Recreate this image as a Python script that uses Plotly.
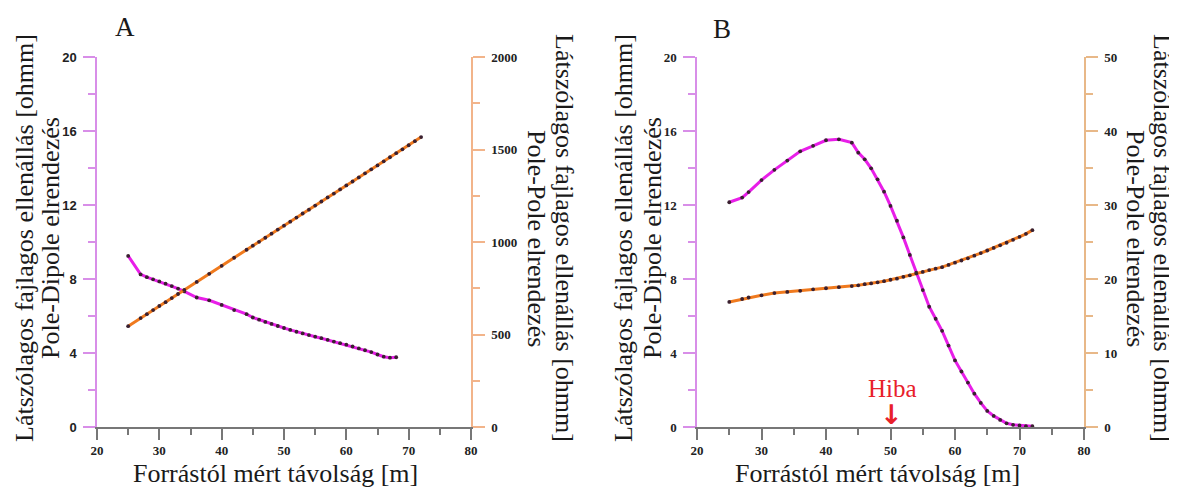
import plotly.graph_objects as go

# Panel A
xa_pp = [25, 27, 28, 29, 30, 31, 32, 33, 34, 36, 38, 40, 42, 44, 45, 46, 47, 48, 49, 50, 51,
         52, 53, 54, 55, 56, 57, 58, 59, 60, 61, 62, 63, 64, 65, 66, 67, 68, 69, 70, 71, 72]
ya_pp = [545, 589, 610, 632, 654, 675, 697, 719, 741, 784, 828, 871, 915, 958, 980, 1001, 1023,
         1045, 1067, 1088, 1110, 1132, 1154, 1175, 1197, 1219, 1241, 1262, 1284, 1306, 1327,
         1349, 1371, 1393, 1414, 1436, 1458, 1480, 1501, 1523, 1545, 1567]
xa_pd = [25, 27, 28, 29, 30, 31, 32, 33, 34, 36, 38, 40, 42, 44, 45, 46, 47, 48, 49, 50, 51,
         52, 53, 54, 55, 56, 57, 58, 59, 60, 61, 62, 63, 64, 65, 66, 67, 68]
ya_pd = [9.25, 8.25, 8.1, 7.98, 7.87, 7.75, 7.62, 7.48, 7.33, 7.0, 6.85, 6.6, 6.32, 6.1, 5.92,
         5.8, 5.68, 5.57, 5.46, 5.35, 5.25, 5.15, 5.06, 4.97, 4.88, 4.8, 4.71, 4.62, 4.53, 4.45,
         4.35, 4.25, 4.15, 4.05, 3.92, 3.8, 3.75, 3.77]

# Panel B
xb = [25, 27, 28, 30, 32, 34, 36, 38, 40, 42, 44, 45, 46, 47, 48, 49, 50, 51, 52, 53, 54, 55,
      56, 57, 58, 59, 60, 61, 62, 63, 64, 65, 66, 67, 68, 69, 70, 71, 72]
yb_pd = [12.15, 12.4, 12.7, 13.35, 13.9, 14.4, 14.9, 15.2, 15.5, 15.55, 15.37, 14.83, 14.47,
         13.98, 13.39, 12.72, 11.95, 11.15, 10.25, 9.3, 8.34, 7.4, 6.5, 5.85, 5.2, 4.4, 3.6,
         3.0, 2.4, 1.8, 1.3, 0.87, 0.6, 0.38, 0.2, 0.12, 0.08, 0.05, 0.04]
yb_pp = [16.9, 17.3, 17.5, 17.8, 18.1, 18.25, 18.4, 18.6, 18.75, 18.9, 19.05, 19.15, 19.3, 19.4,
         19.55, 19.7, 19.9, 20.05, 20.3, 20.5, 20.75, 20.95, 21.2, 21.4, 21.6, 21.9, 22.2, 22.5,
         22.8, 23.15, 23.5, 23.85, 24.2, 24.55, 24.9, 25.3, 25.7, 26.1, 26.6]

# the page body has an 8px margin, so the figure is a bit smaller and positions are shifted
OFF = 8
W, H = 1177 - OFF, 490 - OFF
MAG = '#e81ee8'
ORA = '#f07a1e'
DOT = '#3a2030'
SERIF = 'Liberation Serif'

def px(x):
    return (x - OFF) / W

def py(y):
    return 1 - (y - OFF) / H

fig = go.Figure()

def line(x, y, xa, ya, color):
    fig.add_trace(go.Scatter(x=x, y=y, xaxis=xa, yaxis=ya, mode='lines+markers',
                             line=dict(color=color, width=3),
                             marker=dict(color=DOT, size=3.8), showlegend=False))

line(xa_pp, ya_pp, 'x', 'y2', ORA)
line(xa_pd, ya_pd, 'x', 'y', MAG)
line(xb, yb_pp, 'x2', 'y4', ORA)
line(xb, yb_pd, 'x2', 'y3', MAG)

ydom = [py(427), py(57)]
bold_serif = dict(family=SERIF, size=13, color='#222222', weight='bold')

def xaxis(dom, anchor):
    return dict(domain=dom, anchor=anchor, range=[20, 80], tickvals=[20, 30, 40, 50, 60, 70, 80],
                showline=True, linecolor='#777777', linewidth=1.5, ticks='outside', ticklen=11,
                tickcolor='#777777', tickwidth=1.5, showgrid=False, zeroline=False,
                tickfont=bold_serif, automargin=False,
                minor=dict(dtick=5, tick0=25, ticks='outside', ticklen=6, tickcolor='#777777',
                           tickwidth=1.5, showgrid=False))

def yaxis(rng, dtick, mdtick, color, side, font, overlay=None, anchor=None):
    d = dict(domain=ydom, range=rng, dtick=dtick, side=side, showline=True, linecolor=color,
             linewidth=1.5, ticks='outside', ticklen=12, tickcolor=color, tickwidth=1.5,
             showgrid=False, zeroline=False, tickfont=font, ticklabelstandoff=4,
             automargin=False,
             minor=dict(dtick=mdtick, ticks='outside', ticklen=7, tickcolor=color, tickwidth=1.5,
                        showgrid=False))
    if overlay:
        d['overlaying'] = overlay
    if anchor:
        d['anchor'] = anchor
    return d

fig.update_layout(
    width=W, height=H, margin=dict(l=0, r=0, t=0, b=0, pad=0, autoexpand=False),
    paper_bgcolor='white', plot_bgcolor='white',
    xaxis=xaxis([px(97), px(471)], 'y'),
    xaxis2=xaxis([px(697), px(1084)], 'y3'),
    yaxis=yaxis([0, 20], 4, 2, '#d88ee8', 'left',
                dict(family='Liberation Sans', size=13, color='#222222', weight='bold'), anchor='x'),
    yaxis2=yaxis([0, 2000], 500, 250, '#f2b48a', 'right', bold_serif, overlay='y', anchor='x'),
    yaxis3=yaxis([0, 20], 4, 2, '#d88ee8', 'left', bold_serif, anchor='x2'),
    yaxis4=yaxis([0, 50], 10, 5, '#e8b888', 'right', bold_serif, overlay='y3', anchor='x2'),
)

ttl = 'Látszólagos fajlagos ellenállás [ohmm]'
ann_font = dict(family=SERIF, size=26, color='#1a1a1a')

def note(x, y, text, angle=0, font=ann_font):
    fig.add_annotation(x=px(x), y=py(y), xref='paper', yref='paper', text=text, showarrow=False,
                       textangle=angle, font=font, xanchor='center', yanchor='middle')

note(125, 27, 'A', font=dict(family=SERIF, size=27, color='#1a1a1a'))
note(722, 29, 'B', font=dict(family=SERIF, size=27, color='#1a1a1a'))
note(24, 238, ttl, -90)
note(50, 238, 'Pole-Dipole elrendezés', -90)
note(565, 238, ttl, 90)
note(537, 238, 'Pole-Pole elrendezés', 90)
note(623, 238, ttl, -90)
note(652, 238, 'Pole-Dipole elrendezés', -90)
note(1163, 238, ttl, 90)
note(1136, 238, 'Pole-Pole elrendezés', 90)
note(275, 473, 'Forrástól mért távolság [m]')
note(877, 473, 'Forrástól mért távolság [m]')
note(892, 388, 'Hiba', font=dict(family=SERIF, size=25, color='#e8202a'))
note(891, 414, '↓', font=dict(family='DejaVu Sans', size=27, color='#e8202a', weight='bold'))

fig.write_html("out.html")
